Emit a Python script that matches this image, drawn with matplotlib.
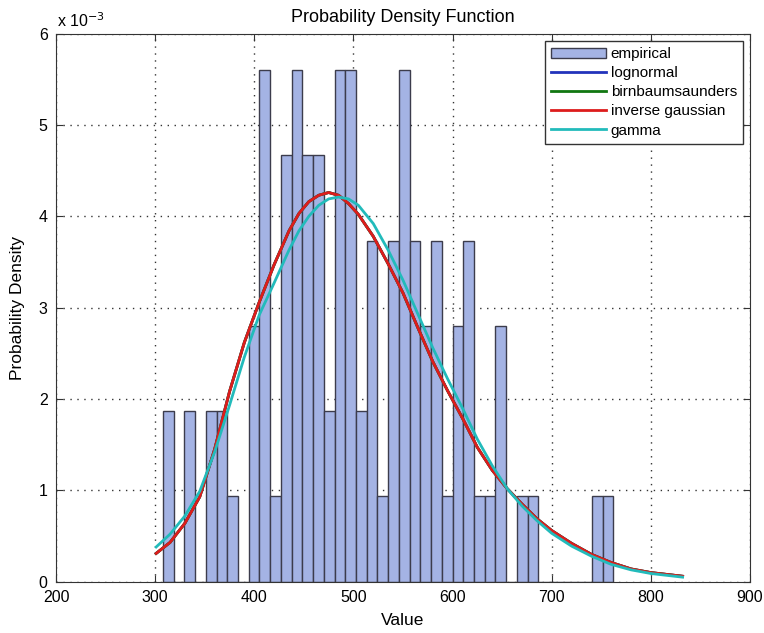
import numpy as np
import matplotlib
matplotlib.use('Agg')
import matplotlib.pyplot as plt
from matplotlib.ticker import FuncFormatter

plt.rcParams['font.family'] = ['Liberation Sans', 'DejaVu Sans']

# histogram: 42 bins starting at 307.8, counts
bin_start = 307.8
bin_width = 10.82
bin_counts = [2, 0, 2, 0, 2, 2, 1, 0, 3, 6, 1, 5, 6, 5, 5, 2, 6, 6, 2, 4, 1,
              4, 6, 4, 3, 4, 1, 3, 4, 1, 1, 3, 0, 1, 1, 0, 0, 0, 0, 0, 1, 1]

# fitted pdfs (units of 1e-3)
fit_x = [301, 315, 330, 345, 360, 375, 390, 405, 420, 435, 445, 455, 465,
         475, 485, 495, 505, 520, 535, 550, 565, 580, 595, 610, 625, 640,
         655, 670, 685, 700, 720, 740, 760, 780, 800, 832]
invgauss_pdf = [0.31, 0.43, 0.64, 0.93, 1.45, 2.08, 2.62, 3.06, 3.47, 3.84,
                4.03, 4.16, 4.23, 4.26, 4.23, 4.14, 4.02, 3.78, 3.48, 3.16,
                2.78, 2.41, 2.09, 1.79, 1.47, 1.22, 1.02, 0.85, 0.69, 0.56,
                0.42, 0.30, 0.21, 0.14, 0.10, 0.06]
gamma_pdf = [0.38, 0.52, 0.72, 0.99, 1.42, 1.93, 2.46, 2.92, 3.27, 3.63,
             3.84, 4.00, 4.12, 4.19, 4.21, 4.19, 4.12, 3.92, 3.63, 3.30,
             2.93, 2.56, 2.22, 1.90, 1.56, 1.27, 1.02, 0.83, 0.67, 0.53,
             0.39, 0.28, 0.19, 0.13, 0.09, 0.05]
# lognormal and birnbaum-saunders sit right under the inverse gaussian
lognormal_pdf = invgauss_pdf
birnbaum_pdf = invgauss_pdf

counts = np.array(bin_counts, dtype=float)
centers = bin_start + bin_width * (np.arange(len(counts)) + 0.5)
density = counts / (counts.sum() * bin_width)

fig = plt.figure(figsize=(7.64, 6.33), dpi=100)
ax = fig.add_axes([0.0733, 0.081, 0.9084, 0.866])

bars = ax.bar(centers, density, width=bin_width, color='#a4b3e4', edgecolor='#3c3c4c',
              linewidth=1, label='empirical', zorder=2)
fx = np.array(fit_x)
l1, = ax.plot(fx, np.array(lognormal_pdf) * 1e-3, color='#2233bb', lw=2, label='lognormal', zorder=3)
l2, = ax.plot(fx, np.array(birnbaum_pdf) * 1e-3, color='#117711', lw=2, label='birnbaumsaunders', zorder=3)
l3, = ax.plot(fx, np.array(invgauss_pdf) * 1e-3, color='#dd1c1c', lw=2, label='inverse gaussian', zorder=4)
l4, = ax.plot(fx, np.array(gamma_pdf) * 1e-3, color='#22bbbb', lw=2, label='gamma', zorder=5)

ax.set_xlim(200, 900)
ax.set_ylim(0, 6e-3)
ax.set_xticks(np.arange(200, 901, 100))
ax.set_yticks(np.arange(0, 6.1e-3, 1e-3))
ax.yaxis.set_major_formatter(FuncFormatter(lambda v, p: '%d' % round(v * 1e3)))
ax.tick_params(direction='in', top=True, right=True, length=5, labelsize=11.5,
               color='#333333')
ax.tick_params(axis='x', pad=6)
ax.tick_params(axis='y', pad=6)
for s in ax.spines.values():
    s.set_color('#333333')
ax.set_axisbelow(True)
ax.grid(True, linestyle=(0, (1, 4)), color='#333333', linewidth=1)

ax.set_title('Probability Density Function', fontsize=13, pad=8)
ax.set_xlabel('Value', fontsize=12.5, labelpad=6)
ax.set_ylabel('Probability Density', fontsize=12.5, labelpad=10)
fig.text(0.074, 0.958, r'x 10$^{-3}$', fontsize=11.5)

leg = ax.legend([bars, l1, l2, l3, l4],
                ['empirical', 'lognormal', 'birnbaumsaunders', 'inverse gaussian', 'gamma'],
                loc='upper right', bbox_to_anchor=(0.99, 0.986), borderaxespad=0,
                fontsize=11, fancybox=False, framealpha=1, edgecolor='#333333',
                handlelength=3.6, handletextpad=0.3, borderpad=0.4,
                labelspacing=0.33)
leg.get_frame().set_linewidth(1)

fig.savefig('out.png', dpi=100)
